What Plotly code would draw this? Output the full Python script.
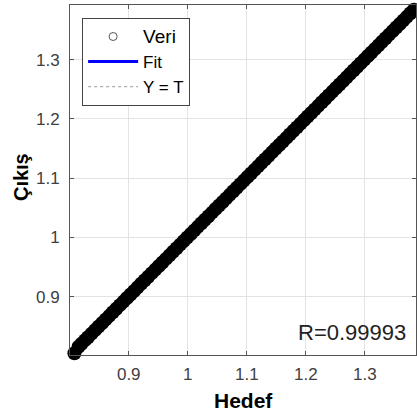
import plotly.graph_objects as go

# Data (Hedef = target, Çıkış = output)
hedef = [0.808, 0.815, 0.820, 0.826, 0.831, 0.837, 0.843, 0.849, 0.855, 0.861,
         0.867, 0.873, 0.879, 0.885, 0.891, 0.897, 0.903, 0.909, 0.915, 0.921,
         0.927, 0.933, 0.939, 0.945, 0.951, 0.957, 0.963, 0.969, 0.975, 0.981,
         0.987, 0.993, 0.999, 1.005, 1.011, 1.017, 1.023, 1.029, 1.035, 1.041,
         1.047, 1.053, 1.059, 1.065, 1.071, 1.077, 1.083, 1.089, 1.095, 1.101,
         1.107, 1.113, 1.119, 1.125, 1.131, 1.137, 1.143, 1.149, 1.155, 1.161,
         1.167, 1.173, 1.179, 1.185, 1.191, 1.197, 1.203, 1.209, 1.215, 1.221,
         1.227, 1.233, 1.239, 1.245, 1.251, 1.257, 1.263, 1.269, 1.275, 1.281,
         1.287, 1.293, 1.299, 1.305, 1.311, 1.317, 1.323, 1.329, 1.335, 1.341,
         1.347, 1.353, 1.359, 1.365, 1.371, 1.377, 1.383, 1.389]
cikis = [0.805, 0.816, 0.821, 0.827, 0.832, 0.838, 0.844, 0.850, 0.856, 0.862,
         0.868, 0.874, 0.880, 0.886, 0.892, 0.898, 0.904, 0.910, 0.916, 0.922,
         0.928, 0.934, 0.940, 0.946, 0.952, 0.958, 0.964, 0.970, 0.976, 0.982,
         0.988, 0.994, 1.000, 1.006, 1.012, 1.018, 1.024, 1.030, 1.036, 1.042,
         1.048, 1.054, 1.060, 1.066, 1.072, 1.078, 1.084, 1.090, 1.096, 1.102,
         1.108, 1.114, 1.120, 1.126, 1.132, 1.138, 1.144, 1.150, 1.156, 1.162,
         1.168, 1.174, 1.180, 1.186, 1.192, 1.198, 1.204, 1.210, 1.216, 1.222,
         1.228, 1.234, 1.240, 1.246, 1.252, 1.258, 1.264, 1.270, 1.276, 1.282,
         1.288, 1.294, 1.300, 1.306, 1.312, 1.318, 1.324, 1.330, 1.336, 1.342,
         1.348, 1.354, 1.360, 1.366, 1.372, 1.378, 1.384, 1.390]
fit_x = [0.808, 1.389]
fit_y = [0.809, 1.390]
yt_x = [0.808, 1.389]
yt_y = [0.808, 1.389]
tick_vals = [0.9, 1.0, 1.1, 1.2, 1.3]
tick_text = ["0.9", "1", "1.1", "1.2", "1.3"]
r_text = "R=0.99993"

FONT = "Liberation Sans, Arial, sans-serif"

fig = go.Figure()
# legend-only entry for the data symbol
fig.add_trace(go.Scatter(x=[None], y=[None], mode="markers",
                         name="<span style='font-size:19px'>Veri</span>",
                         marker=dict(symbol="circle-open", size=8, color="#555",
                                     line=dict(width=1, color="#555"))))
fig.add_trace(go.Scatter(x=fit_x, y=fit_y, mode="lines", name="Fit",
                         line=dict(color="#0000ff", width=3)))
fig.add_trace(go.Scatter(x=yt_x, y=yt_y, mode="lines", name="Y = T",
                         line=dict(color="#999999", width=1, dash="dot")))
fig.add_trace(go.Scatter(x=hedef, y=cikis, mode="markers", showlegend=False,
                         cliponaxis=False,
                         marker=dict(symbol="circle", size=14, color="black",
                                     line=dict(width=0, color="black"))))

axis_common = dict(
    tickvals=tick_vals, ticktext=tick_text, ticks="inside", ticklen=4,
    tickcolor="#555", showline=True, linecolor="#555", linewidth=1,
    mirror="allticks", showgrid=True, gridcolor="#e3e3e3", gridwidth=1,
    zeroline=False, tickfont=dict(family=FONT, size=17, color="#404040"),
)
fig.update_xaxes(range=[0.8005, 1.3865], ticklabelstandoff=4, **axis_common)
fig.update_yaxes(range=[0.802, 1.392], ticklabelstandoff=6, **axis_common)

fig.add_annotation(x=0.977, y=0.063, xref="paper", yref="paper", text=r_text,
                   showarrow=False, xanchor="right", yanchor="middle",
                   font=dict(family=FONT, size=22, color="#222"))
fig.add_annotation(x=-0.142, y=0.508, xref="paper", yref="paper", text="<b>Çıkış</b>",
                   showarrow=False, textangle=-90, xanchor="center", yanchor="middle",
                   font=dict(family=FONT, size=20, color="black"))
fig.add_annotation(x=0.5, y=-0.129, xref="paper", yref="paper", text="<b>Hedef</b>",
                   showarrow=False, xanchor="center", yanchor="middle",
                   font=dict(family=FONT, size=21, color="black"))

fig.update_layout(
    width=417, height=417,
    margin=dict(l=70, r=1, t=5, b=62),
    paper_bgcolor="white", plot_bgcolor="white",
    legend=dict(x=0.035, y=0.963, xanchor="left", yanchor="top",
                bgcolor="white", bordercolor="#444", borderwidth=1,
                font=dict(family=FONT, size=17, color="black"),
                itemwidth=50, tracegroupgap=0),
)

fig.write_html("out.html")
